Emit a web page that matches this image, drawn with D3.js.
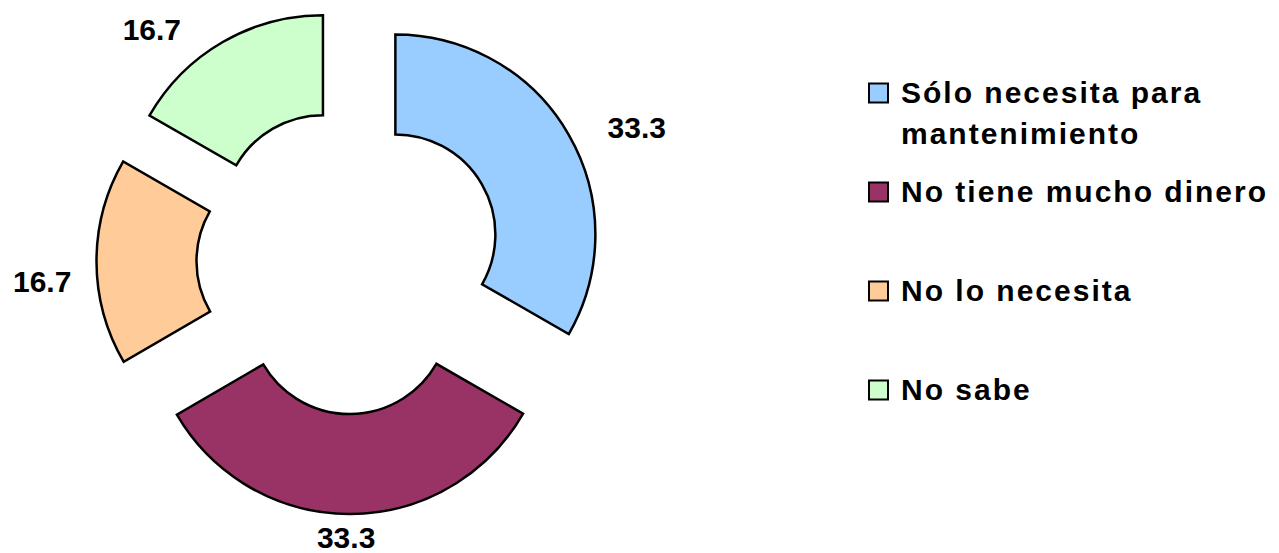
<!DOCTYPE html>
<html>
<head>
	<meta charset="UTF-8">
	<title>Razones - dona</title>
	<script src="https://cdnjs.cloudflare.com/ajax/libs/d3/7.8.5/d3.min.js"></script>
	<style>
		body { margin: 0; background: #fff; }
		text { font-family: "Liberation Sans", Arial, sans-serif; font-weight: bold; fill: #000; }
	</style>
</head>
<body>
	<script>
		// data
		var categories = ["Sólo necesita para mantenimiento", "No tiene mucho dinero", "No lo necesita", "No sabe"];
		var values = [33.3, 33.3, 16.7, 16.7];
		var colors = ["#99CCFF", "#993366", "#FFCC99", "#CCFFCC"];

		// layout
		var width = 1279, height = 553;
		var cx = 349.5, cy = 261;
		var outerR = 200, innerR = 100, explode = 53;
		// data labels were moved by hand in the original, so keep their polar spot (deg, radius)
		var labelSpots = [[65, 317], [180.7, 276], [266.3, 308], [319.6, 305]];

		var svg = d3.select("body").append("svg")
		    .attr("width", width)
		    .attr("height", height);

		var pie = d3.pie().sort(null).value(function(d) { return d; });
		var arc = d3.arc().innerRadius(innerR).outerRadius(outerR);

		var slices = pie(values);

		var g = svg.append("g")
		    .attr("transform", "translate(" + cx + "," + cy + ")");

		// exploded slices
		g.selectAll("path.slice")
		    .data(slices)
		    .enter().append("path")
		    .attr("class", "slice")
		    .attr("d", arc)
		    .attr("fill", function(d, i) { return colors[i]; })
		    .attr("stroke", "#000")
		    .attr("stroke-width", 2.5)
		    .attr("stroke-linejoin", "miter")
		    .attr("transform", function(d) {
		        var a = (d.startAngle + d.endAngle) / 2;
		        return "translate(" + (Math.sin(a) * explode) + "," + (-Math.cos(a) * explode) + ")";
		    });

		// value labels
		var fmt = d3.format(".1f");
		g.selectAll("text.val")
		    .data(slices)
		    .enter().append("text")
		    .attr("class", "val")
		    .attr("x", function(d, i) { return Math.sin(labelSpots[i][0] * Math.PI / 180) * labelSpots[i][1]; })
		    .attr("y", function(d, i) { return -Math.cos(labelSpots[i][0] * Math.PI / 180) * labelSpots[i][1]; })
		    .attr("dy", "0.36em")
		    .attr("text-anchor", "middle")
		    .style("font-size", "30px")
		    .text(function(d) { return fmt(d.data); });

		// legend
		var legend = svg.append("g")
		    .attr("transform", "translate(869,93)");

		var item = legend.selectAll("g.item")
		    .data(categories)
		    .enter().append("g")
		    .attr("class", "item")
		    .attr("transform", function(d, i) { return "translate(0," + (i * 99) + ")"; });

		item.append("rect")
		    .attr("x", 0)
		    .attr("y", -9.5)
		    .attr("width", 19)
		    .attr("height", 19)
		    .attr("fill", function(d, i) { return colors[i]; })
		    .attr("stroke", "#000")
		    .attr("stroke-width", 2);

		item.each(function(d) {
		    var t = d3.select(this).append("text")
		        .attr("x", 32)
		        .attr("y", 10)
		        .style("font-size", "30px")
		        .style("letter-spacing", "2px");
		    // wrap long names into lines
		    var words = d.split(" "), line = [], lineNo = 0;
		    var tspan = t.append("tspan").attr("x", 32).attr("dy", 0);
		    words.forEach(function(w) {
		        line.push(w);
		        tspan.text(line.join(" "));
		        if (tspan.node().getComputedTextLength() > 378 && line.length > 1) {
		            line.pop();
		            tspan.text(line.join(" "));
		            line = [w];
		            lineNo++;
		            tspan = t.append("tspan").attr("x", 32).attr("dy", 41).text(w);
		        }
		    });
		});
	</script>
</body>
</html>
